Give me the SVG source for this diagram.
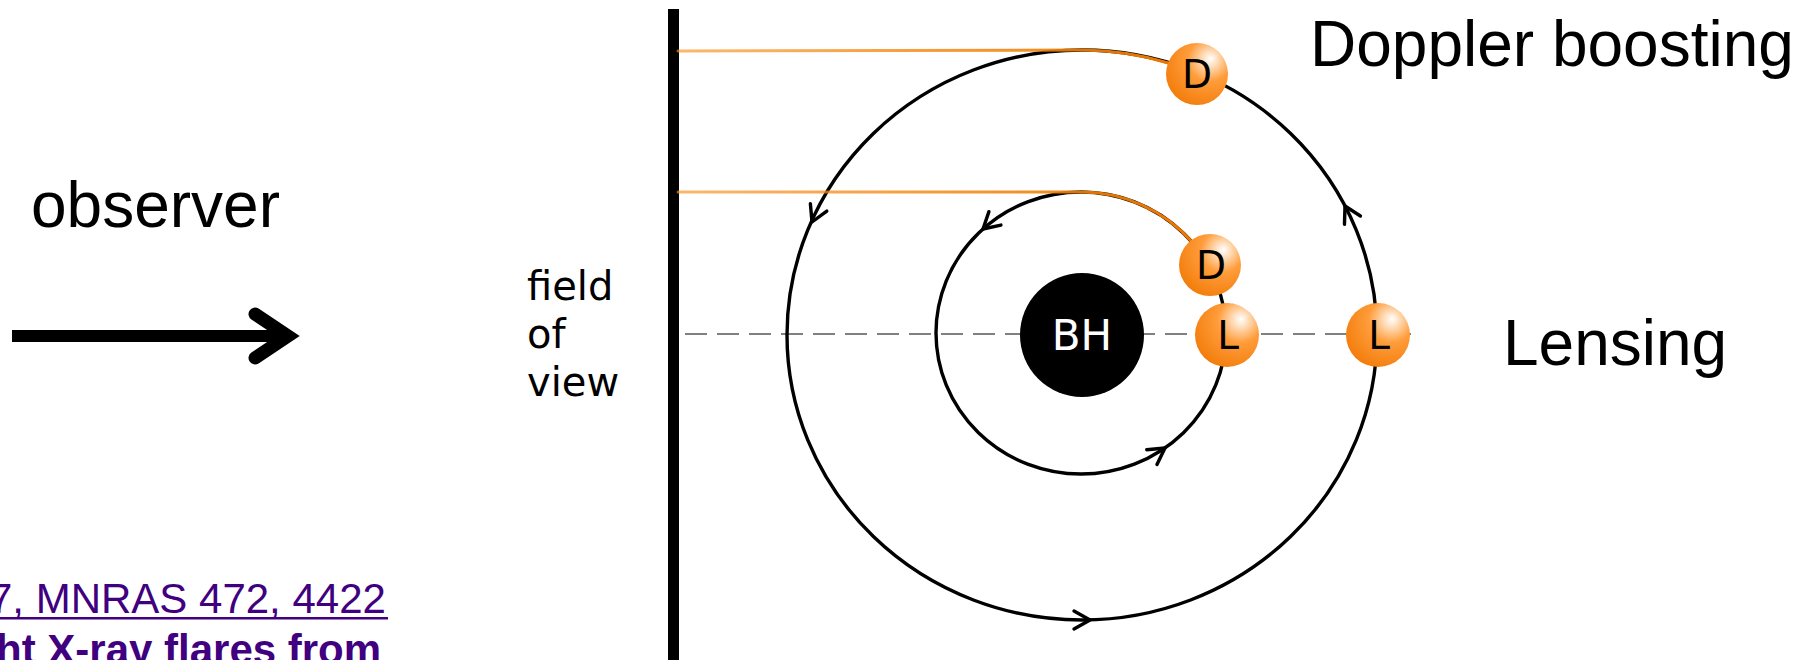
<svg xmlns="http://www.w3.org/2000/svg" width="1799" height="660" viewBox="0 0 1799 660">
  <style>
    .sans { font-family: "Liberation Sans", Arial, sans-serif; }
    .dv { font-family: "DejaVu Sans", "Liberation Sans", sans-serif; }
    .orbit { fill: none; stroke: #000; stroke-width: 3.4; }
    .ray { fill: none; stroke: url(#rayGrad); stroke-width: 3; stroke-linecap: round; }
    .tick { fill: none; stroke: #000; stroke-width: 3.4; stroke-linecap: round; stroke-linejoin: round; }
    .ball { fill: url(#ballGrad); }
    .ballText { font-family: "DejaVu Sans", "Liberation Sans", sans-serif; font-size: 39px; fill: #000; text-anchor: middle; }
    .big { font-size: 64px; fill: #000; }
    .ref { fill: #400080; font-size: 42px; }
  </style>
  <defs>
    <radialGradient id="ballGrad" cx="0.68" cy="0.3" r="0.78" fx="0.72" fy="0.25">
      <stop offset="0" stop-color="#ffffff"/>
      <stop offset="0.18" stop-color="#ffd8b0"/>
      <stop offset="0.45" stop-color="#ff9c3a"/>
      <stop offset="1" stop-color="#f27c0a"/>
    </radialGradient>
    <linearGradient id="rayGrad" gradientUnits="userSpaceOnUse" x1="678" y1="0" x2="1200" y2="0">
      <stop offset="0" stop-color="#f7931e" stop-opacity="0.65"/>
      <stop offset="1" stop-color="#f07800" stop-opacity="1"/>
    </linearGradient>
  </defs>

  <rect width="1799" height="660" fill="#fff"/>

  <!-- observer label and arrow -->
  <g id="observer">
    <text class="sans big" x="31" y="227">observer</text>
    <line x1="12" y1="336" x2="288" y2="336" stroke="#000" stroke-width="12"/>
    <polyline points="255,314 288,336 255,358" fill="none" stroke="#000" stroke-width="13" stroke-linecap="round" stroke-linejoin="miter"/>
  </g>

  <!-- field of view screen -->
  <g id="fov">
    <rect x="668" y="9" width="11" height="651" fill="#000"/>
    <text class="dv" font-size="40" fill="#000">
      <tspan x="527" y="300">field</tspan>
      <tspan x="527" y="348">of</tspan>
      <tspan x="527" y="396">view</tspan>
    </text>
  </g>

  <!-- line of sight through the black hole -->
  <line id="axis" x1="685" y1="334" x2="1418" y2="334" stroke="#808080" stroke-width="2" stroke-dasharray="22 10"/>

  <g id="connectors">
    <!-- orbits -->
    <ellipse class="orbit" cx="1082" cy="335" rx="295" ry="285"/>
    <ellipse class="orbit" cx="1081" cy="333" rx="145" ry="141"/>
    <!-- direction ticks on the orbits -->
    <path class="tick" d="M-16,-9 L0,0 L-16,9" transform="translate(812,222) rotate(114.3)"/>
    <path class="tick" d="M-16,-9 L0,0 L-16,9" transform="translate(1345,206) rotate(-117.7)"/>
    <path class="tick" d="M-16,-9 L0,0 L-16,9" transform="translate(1090,620) rotate(0)"/>
    <path class="tick" d="M-16,-9 L0,0 L-16,9" transform="translate(983,229) rotate(138.2)"/>
    <path class="tick" d="M-16,-9 L0,0 L-16,9" transform="translate(1165,448) rotate(-34.7)"/>
    <!-- light paths to the screen -->
    <path class="ray" d="M678,51 L1082,50 A295,285 0 0 1 1172,64"/>
    <path class="ray" d="M678,192 L1081,192 A145,141 0 0 1 1192,242"/>
  </g>

  <!-- black hole -->
  <g id="bh">
    <circle cx="1082" cy="335" r="62" fill="#000"/>
    <text class="dv" x="1082" y="350" font-size="42" fill="#fff" text-anchor="middle">BH</text>
  </g>

  <!-- hot spots -->
  <g id="spot-outer-d">
    <circle class="ball" cx="1197" cy="74" r="31"/>
    <text class="ballText" x="1197" y="88">D</text>
  </g>
  <g id="spot-inner-d">
    <circle class="ball" cx="1210" cy="265" r="31"/>
    <text class="ballText" x="1211" y="279">D</text>
  </g>
  <g id="spot-inner-l">
    <circle class="ball" cx="1227" cy="335" r="32"/>
    <text class="ballText" x="1228" y="349">L</text>
  </g>
  <g id="spot-outer-l">
    <circle class="ball" cx="1378" cy="335" r="32"/>
    <text class="ballText" x="1379" y="349">L</text>
  </g>

  <!-- effect labels -->
  <text id="label-doppler" class="sans big" x="1310" y="66">Doppler boosting</text>
  <text id="label-lensing" class="sans big" x="1503" y="365">Lensing</text>

  <!-- citation, running off the lower left edge -->
  <g id="reference">
    <text class="sans ref" x="-11" y="613">7, MNRAS 472, 4422</text>
    <rect x="0" y="617" width="388" height="2.5" fill="#400080"/>
    <text class="sans ref" x="-4" y="664" font-weight="bold">ht X-ray flares from</text>
  </g>
</svg>
